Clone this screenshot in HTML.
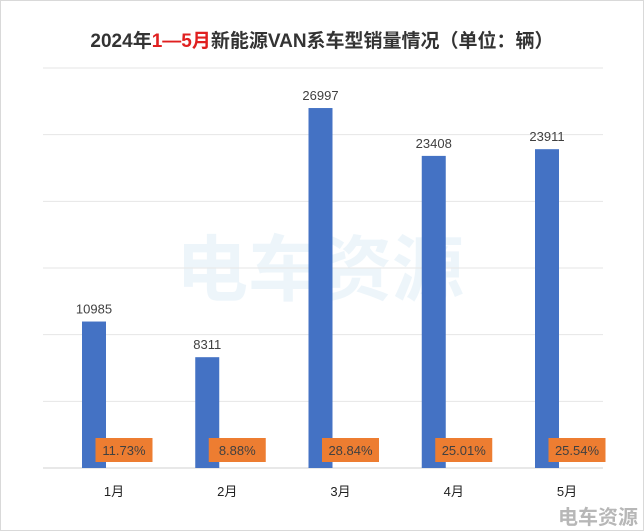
<!DOCTYPE html>
<html><head><meta charset="utf-8"><style>
body{margin:0;background:#fff;}
#c{position:relative;width:644px;height:531px;overflow:hidden;font-family:"Liberation Sans","Noto Sans CJK SC",sans-serif;}
</style></head><body>
<div id="c">
<svg id="s" width="644" height="531" xmlns="http://www.w3.org/2000/svg">
<rect x="0.5" y="0.5" width="643" height="530" fill="#fff" stroke="#d9d9d9"/>
<text x="322" y="47" text-anchor="middle" font-size="19" font-weight="bold" fill="#333" font-family="Liberation Sans, Noto Sans CJK SC, sans-serif">2024年<tspan fill="#e02020">1—5月</tspan>新能源VAN系车型销量情况（单位：辆）</text>
<text x="320" y="295" text-anchor="middle" font-size="72" font-weight="bold" fill="#5aa6d6" opacity="0.1" font-family="Noto Sans CJK SC, sans-serif">电车资源</text>
<text x="638" y="524" text-anchor="end" font-size="20" font-weight="bold" fill="#888" opacity="0.6" font-family="Noto Sans CJK SC, sans-serif">电车资源</text>
<g id="grid"></g><g id="bars"></g>
</svg>
</div>
<script>
const categories=["1月","2月","3月","4月","5月"];
const sales=[10985,8311,26997,23408,23911];
const shares=["11.73%","8.88%","28.84%","25.01%","25.54%"];
const ticks=[0,5000,10000,15000,20000,25000,30000];
const NS="http://www.w3.org/2000/svg";
const y0=468,y1=68,maxV=30000,x0=43,x1=603;
const y=v=>y0-(v/maxV)*(y0-y1);
const cx=i=>112+i*113.25;
function mk(t,a,p){const e=document.createElementNS(NS,t);for(const k in a)e.setAttribute(k,a[k]);p.appendChild(e);return e;}
const g=document.getElementById('grid'),b=document.getElementById('bars');
ticks.forEach(t=>{
 const l=mk('line',{x1:x0,x2:x1,y1:y(t),y2:y(t),stroke:t===0?'#d0d0d0':'#e6e6e6','stroke-width':1},g);
 
 
});
categories.forEach((c,i)=>{
 const bx=cx(i)-18;
 const r=mk('rect',{x:bx-12,y:y(sales[i]),width:24,height:y0-y(sales[i]),fill:'#4472c4'},b);
 
 
 const v=mk('text',{x:bx,y:y(sales[i])-8,'text-anchor':'middle','font-size':13,fill:'#404040'},b);
 v.textContent=sales[i];
 
 
 const px=cx(i)+12;
 const bg=mk('rect',{x:px-28.5,y:438,width:57,height:24,fill:'#ed7d31'},b);
 
 
 const st=mk('text',{x:px,y:455,'text-anchor':'middle','font-size':13,fill:'#404040'},b);
 st.textContent=shares[i];
 
 
 const xl=mk('text',{x:cx(i)+2,y:496,'text-anchor':'middle','font-size':13,fill:'#222'},b);
 xl.textContent=c;
 
 
});
</script>
</body></html>
